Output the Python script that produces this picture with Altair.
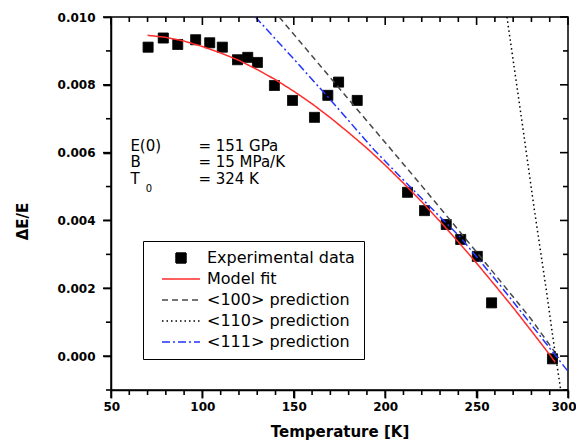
import altair as alt
import pandas as pd

# ---------------- data ----------------
series_names = ["Experimental data", "Model fit", "<100> prediction",
                "<110> prediction", "<111> prediction"]

exp_T = [70.3, 78.6, 86.5, 96.3, 104.0, 110.9, 119.2, 124.8, 130.1, 139.4,
         149.3, 161.3, 168.6, 174.5, 184.7, 212.2, 221.5, 233.4, 241.3,
         250.4, 258.2, 291.5]
exp_v = [0.00911, 0.00938, 0.00919, 0.00933, 0.00924, 0.00911, 0.00874,
         0.00881, 0.00866, 0.00798, 0.00754, 0.00704, 0.00769, 0.00808,
         0.00754, 0.00483, 0.00429, 0.00388, 0.00344, 0.00294, 0.00157,
         -0.00008]

fit_T = [70, 80, 90, 100, 110, 120, 130, 140, 150, 160, 170, 180, 190, 200,
         210, 220, 230, 240, 250, 260, 270, 280, 290, 293]
fit_v = [0.00946, 0.00940, 0.00929, 0.00913, 0.00894, 0.00872, 0.00845,
         0.00815, 0.00781, 0.00744, 0.00703, 0.00659, 0.00613, 0.00563,
         0.00510, 0.00455, 0.00397, 0.00337, 0.00274, 0.00209, 0.00143,
         0.00074, 0.00004, -0.00018]

p100_T = [142, 160, 180, 200, 220, 240, 260, 280, 295]
p100_v = [0.0100, 0.00885, 0.00757, 0.00630, 0.00502, 0.00372, 0.00241,
          0.00108, -0.00005]

p110_T = [266.6, 275.0, 281.5, 288.0, 292.0, 296.0]
p110_v = [0.0100, 0.00685, 0.00435, 0.00200, 0.00045, -0.0010]

p111_T = [129, 150, 168, 194, 212, 241, 263, 280, 300]
p111_v = [0.0100, 0.00876, 0.00768, 0.00608, 0.00508, 0.00351, 0.00208,
          0.00092, -0.00045]

ann_labels = ["E(0)", "B", "T"]
ann_values = ["= 151 GPa", "= 15 MPa/K", "= 324 K"]
ann_sub = ["0"]

x_major = list(range(50, 301, 50))
x_minor = [t for t in range(50, 301, 10) if t % 50 != 0]
y_major = [round(0.002 * i, 3) for i in range(6)]
y_minor = [round(-0.001 + 0.002 * i, 3) for i in range(6)]

# ---------------- layout / style ----------------
W, H = 457, 373
TICK_W = 1.6
ann_row_v = [0.00621, 0.00571, 0.00521]
ann_label_T = 60.6
ann_value_T = 97.8
ann_sub_T, ann_sub_v = 69.0, 0.00494

series_colors = ["#000000", "#ff2b2b", "#484848", "#000000", "#2233ff"]
series_dashes = [[1, 0], [1, 0], [6, 4], [1.5, 3], [8, 3, 2, 3]]
line_path = "M-3.8,0H3.8"
series_shapes = ["square", line_path, line_path, line_path, line_path]

# tick glyphs (scaled by sqrt(size)/2 = 5 px per unit)
TICK_DOWN_MAJOR, TICK_DOWN_MINOR = "M0,0V1.6", "M0,0V1"
TICK_LEFT_MAJOR, TICK_LEFT_MINOR = "M0,0H-1.6", "M0,0H-1"

exp_df = pd.DataFrame({"T": exp_T, "v": exp_v, "series": series_names[0]})
lines_df = pd.concat([
    pd.DataFrame({"T": fit_T, "v": fit_v, "series": series_names[1]}),
    pd.DataFrame({"T": p100_T, "v": p100_v, "series": series_names[2]}),
    pd.DataFrame({"T": p110_T, "v": p110_v, "series": series_names[3]}),
    pd.DataFrame({"T": p111_T, "v": p111_v, "series": series_names[4]}),
], ignore_index=True)
lab_df = pd.DataFrame({"T": [ann_label_T] * 3, "v": ann_row_v, "text": ann_labels})
val_df = pd.DataFrame({"T": [ann_value_T] * 3, "v": ann_row_v, "text": ann_values})
sub_df = pd.DataFrame({"T": [ann_sub_T], "v": [ann_sub_v], "text": ann_sub})

x_scale = alt.Scale(domain=[50, 300], nice=False, zero=False)
y_scale = alt.Scale(domain=[-0.001, 0.010], nice=False, zero=False)
color_scale = alt.Scale(domain=series_names, range=series_colors)
dash_scale = alt.Scale(domain=series_names, range=series_dashes)
shape_scale = alt.Scale(domain=series_names, range=series_shapes)

FONT = "DejaVu Sans"

x_bottom = alt.Axis(values=x_major, format="d", ticks=True, tickSize=8,
                    tickColor="black", tickWidth=TICK_W, grid=False,
                    domainColor="black", domainWidth=1.5,
                    labelFont=FONT, labelFontWeight="bold", labelFontSize=12,
                    labelColor="black", labelPadding=3,
                    labelFlush=True, labelFlushOffset=8,
                    title="Temperature [K]", titleFont=FONT, titleFontSize=15,
                    titleFontWeight="bold", titleColor="black",
                    titleBaseline="middle", titleY=41)
y_left = alt.Axis(values=y_major, format=".3f", ticks=True, tickSize=8,
                  tickColor="black", tickWidth=TICK_W, grid=False,
                  domainColor="black", domainWidth=1.5,
                  labelFont=FONT, labelFontWeight="bold", labelFontSize=12,
                  labelColor="black", labelPadding=8, labelFlush=False,
                  title="ΔE/E", titleFont=FONT, titleFontSize=15,
                  titleFontWeight="bold", titleColor="black",
                  titleAngle=270, titleAlign="center", titleBaseline="middle",
                  titleX=-89, titleY=204)

legend = alt.Legend(
    orient="none", legendX=32, legendY=224, title=None,
    strokeColor="black", fillColor="white", padding=9,
    labelFont=FONT, labelFontSize=16, labelColor="black",
    symbolSize=100, symbolOffset=21, labelOffset=18, rowPadding=5,
    symbolStrokeWidth=1.5, symbolOpacity=1,
)

points = alt.Chart(exp_df).mark_point(filled=True, size=100, opacity=1,
                                      strokeWidth=1).encode(
    x=alt.X("T:Q", scale=x_scale, axis=x_bottom),
    y=alt.Y("v:Q", scale=y_scale, axis=y_left),
    fill=alt.Fill("series:N", scale=color_scale, legend=legend),
    stroke=alt.Stroke("series:N", scale=color_scale, legend=legend),
    shape=alt.Shape("series:N", scale=shape_scale, legend=legend),
    strokeDash=alt.StrokeDash("series:N", scale=dash_scale, legend=legend),
)

lines = alt.Chart(lines_df).mark_line(clip=True, strokeWidth=1.5).encode(
    x=alt.X("T:Q", scale=x_scale, axis=None),
    y=alt.Y("v:Q", scale=y_scale, axis=None),
    stroke=alt.Stroke("series:N", scale=color_scale, legend=None),
    strokeDash=alt.StrokeDash("series:N", scale=dash_scale, legend=None),
)


def x_ticks(vals, y0, glyph):
    return alt.Chart(pd.DataFrame({"T": vals})).mark_point(
        shape=glyph, size=100, filled=False, color="black",
        strokeWidth=TICK_W, opacity=1).encode(
        x=alt.X("T:Q", scale=x_scale, axis=None),
        y=alt.value(y0))


def y_ticks(vals, x0, glyph):
    return alt.Chart(pd.DataFrame({"v": vals})).mark_point(
        shape=glyph, size=100, filled=False, color="black",
        strokeWidth=TICK_W, opacity=1).encode(
        y=alt.Y("v:Q", scale=y_scale, axis=None),
        x=alt.value(x0))


tick_layers = [
    x_ticks(x_major, H, TICK_DOWN_MAJOR), x_ticks(x_minor, H, TICK_DOWN_MINOR),
    x_ticks(x_major, 0, TICK_DOWN_MAJOR), x_ticks(x_minor, 0, TICK_DOWN_MINOR),
    y_ticks(y_major, 0, TICK_LEFT_MAJOR), y_ticks(y_minor, 0, TICK_LEFT_MINOR),
    y_ticks(y_major, W, TICK_LEFT_MAJOR), y_ticks(y_minor, W, TICK_LEFT_MINOR),
]

txt_style = dict(align="left", baseline="middle", font=FONT,
                 fontSize=15, color="black")
labels = alt.Chart(lab_df).mark_text(**txt_style).encode(
    x=alt.X("T:Q", scale=x_scale, axis=None),
    y=alt.Y("v:Q", scale=y_scale, axis=None),
    text="text:N")
values = alt.Chart(val_df).mark_text(**txt_style).encode(
    x=alt.X("T:Q", scale=x_scale, axis=None),
    y=alt.Y("v:Q", scale=y_scale, axis=None),
    text="text:N")
sub = alt.Chart(sub_df).mark_text(align="left", baseline="middle",
                                  font=FONT, fontSize=10,
                                  color="black").encode(
    x=alt.X("T:Q", scale=x_scale, axis=None),
    y=alt.Y("v:Q", scale=y_scale, axis=None),
    text="text:N")

chart = alt.layer(points, lines, *tick_layers, labels, values, sub).resolve_axis(
    x="independent", y="independent"
).properties(
    width=W, height=H,
    padding={"left": 103, "top": 9, "right": 8, "bottom": 50},
    autosize=alt.AutoSizeParams(type="none"),
    background="white",
).configure_view(stroke="black", strokeWidth=1.5)

chart.save("out.html", embed_options={"renderer": "svg", "actions": False})
